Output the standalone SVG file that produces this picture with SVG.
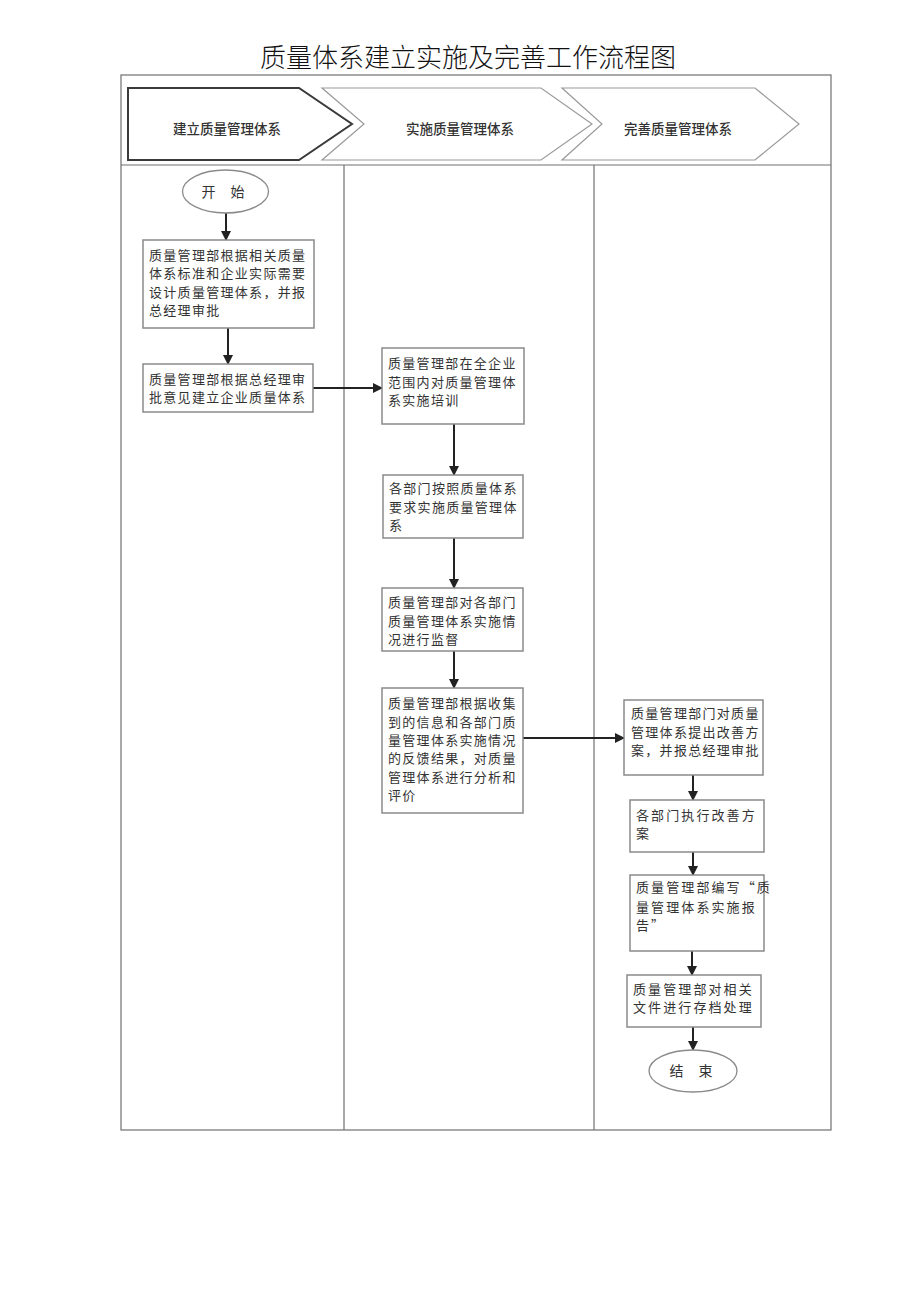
<svg xmlns="http://www.w3.org/2000/svg" width="920" height="1301" viewBox="0 0 920 1301">
<style>
.frame{fill:none;stroke:#707070;stroke-width:1.2}
.chev{fill:#fff;stroke:#9a9a9a;stroke-width:1.2}
.chev1{fill:#fff;stroke:#3a3a3a;stroke-width:2}
.hdr{font-family:"Noto Sans CJK SC",sans-serif;font-size:13.5px;font-weight:500;fill:#333;text-anchor:middle}
.box{fill:#fff;stroke:#8a8a8a;stroke-width:1.5}
.t{font-family:"Noto Sans CJK SC",sans-serif;font-size:13px;fill:#333;letter-spacing:1.3px}
.tw{letter-spacing:2.1px}
.ell{fill:#fff;stroke:#8a8a8a;stroke-width:1.3}
.et{font-family:"Noto Sans CJK SC",sans-serif;font-size:14px;fill:#333;text-anchor:middle}
.arr{fill:none;stroke:#222;stroke-width:2;marker-end:url(#ah)}
.title{font-family:"Noto Sans CJK SC",sans-serif;font-size:26px;font-weight:300;fill:#111;text-anchor:middle}
</style>
<defs>
<marker id="ah" markerWidth="10" markerHeight="10" refX="9" refY="5" orient="auto" markerUnits="userSpaceOnUse">
<path d="M0,0 L10,5 L0,10 Z" fill="#222"/>
</marker>
</defs>
<rect width="920" height="1301" fill="#fff"/>
<text class="title" x="468" y="67">质量体系建立实施及完善工作流程图</text>
<g id="frame">
<rect class="frame" x="121" y="75" width="710" height="1055"/>
<line class="frame" x1="121" y1="165" x2="831" y2="165"/>
<line class="frame" x1="344" y1="165" x2="344" y2="1130"/>
<line class="frame" x1="594" y1="165" x2="594" y2="1130"/>
</g>
<g id="header">
<path class="chev" d="M322,88 L541,88 L592,124 L541,160 L322,160 L364,124 Z"/>
<path class="chev" d="M562,88 L755,88 L799,124 L755,160 L562,160 L602,124 Z"/>
<path class="chev1" d="M128,88 L299,88 L352,124 L299,160 L128,160 Z"/>
<text class="hdr" x="227" y="134">建立质量管理体系</text>
<text class="hdr" x="460" y="134">实施质量管理体系</text>
<text class="hdr" x="678" y="134">完善质量管理体系</text>
</g>
<g id="connectors">
<line class="arr" x1="226" y1="213" x2="226" y2="240"/>
<line class="arr" x1="228" y1="328" x2="228" y2="364"/>
<line class="arr" x1="313" y1="388" x2="382" y2="388"/>
<line class="arr" x1="454" y1="424" x2="454" y2="475"/>
<line class="arr" x1="454" y1="538" x2="454" y2="588"/>
<line class="arr" x1="454" y1="651" x2="454" y2="688"/>
<line class="arr" x1="523" y1="738" x2="624" y2="738"/>
<line class="arr" x1="693" y1="775" x2="693" y2="800"/>
<line class="arr" x1="693" y1="852" x2="693" y2="875"/>
<line class="arr" x1="692" y1="951" x2="692" y2="975"/>
<line class="arr" x1="693" y1="1027" x2="693" y2="1050"/>
</g>
<g id="start">
<ellipse class="ell" cx="225.5" cy="191.5" rx="43" ry="21.5"/>
<text class="et" x="226" y="197" letter-spacing="6">开 始</text>
</g>
<g id="n1">
<rect class="box" x="143" y="240" width="171" height="88"/>
<text class="t"><tspan x="149" y="260">质量管理部根据相关质量</tspan><tspan x="149" y="278">体系标准和企业实际需要</tspan><tspan x="149" y="297">设计质量管理体系，并报</tspan><tspan x="149" y="315">总经理审批</tspan></text>
</g>
<g id="n2">
<rect class="box" x="143" y="364" width="170" height="48"/>
<text class="t"><tspan x="149" y="384">质量管理部根据总经理审</tspan><tspan x="149" y="402">批意见建立企业质量体系</tspan></text>
</g>
<g id="n3">
<rect class="box" x="382" y="348" width="142" height="76"/>
<text class="t"><tspan x="388" y="368">质量管理部在全企业</tspan><tspan x="388" y="387">范围内对质量管理体</tspan><tspan x="388" y="405">系实施培训</tspan></text>
</g>
<g id="n4">
<rect class="box" x="383" y="475" width="140" height="63"/>
<text class="t"><tspan x="389" y="493">各部门按照质量体系</tspan><tspan x="389" y="512">要求实施质量管理体</tspan><tspan x="389" y="530">系</tspan></text>
</g>
<g id="n5">
<rect class="box" x="382" y="588" width="141" height="63"/>
<text class="t"><tspan x="388" y="607">质量管理部对各部门</tspan><tspan x="388" y="626">质量管理体系实施情</tspan><tspan x="388" y="644">况进行监督</tspan></text>
</g>
<g id="n6">
<rect class="box" x="382" y="688" width="141" height="125"/>
<text class="t"><tspan x="388" y="708">质量管理部根据收集</tspan><tspan x="388" y="727">到的信息和各部门质</tspan><tspan x="388" y="745">量管理体系实施情况</tspan><tspan x="388" y="763">的反馈结果，对质量</tspan><tspan x="388" y="782">管理体系进行分析和</tspan><tspan x="388" y="800">评价</tspan></text>
</g>
<g id="n7">
<rect class="box" x="624" y="700" width="139" height="75"/>
<text class="t"><tspan x="631" y="718">质量管理部门对质量</tspan><tspan x="631" y="737">管理体系提出改善方</tspan><tspan x="631" y="755">案，并报总经理审批</tspan></text>
</g>
<g id="n8">
<rect class="box" x="630" y="800" width="134" height="52"/>
<text class="t tw"><tspan x="636" y="820">各部门执行改善方</tspan><tspan x="636" y="838">案</tspan></text>
</g>
<g id="n9">
<rect class="box" x="630" y="875" width="134" height="76"/>
<text class="t tw"><tspan x="636" y="892">质量管理部编写“质</tspan><tspan x="636" y="912">量管理体系实施报</tspan><tspan x="636" y="930">告”</tspan></text>
</g>
<g id="n10">
<rect class="box" x="627" y="975" width="134" height="52"/>
<text class="t tw"><tspan x="633" y="994">质量管理部对相关</tspan><tspan x="633" y="1012">文件进行存档处理</tspan></text>
</g>
<g id="end">
<ellipse class="ell" cx="693" cy="1071" rx="44" ry="21"/>
<text class="et" x="694" y="1076" letter-spacing="6">结 束</text>
</g>
</svg>
